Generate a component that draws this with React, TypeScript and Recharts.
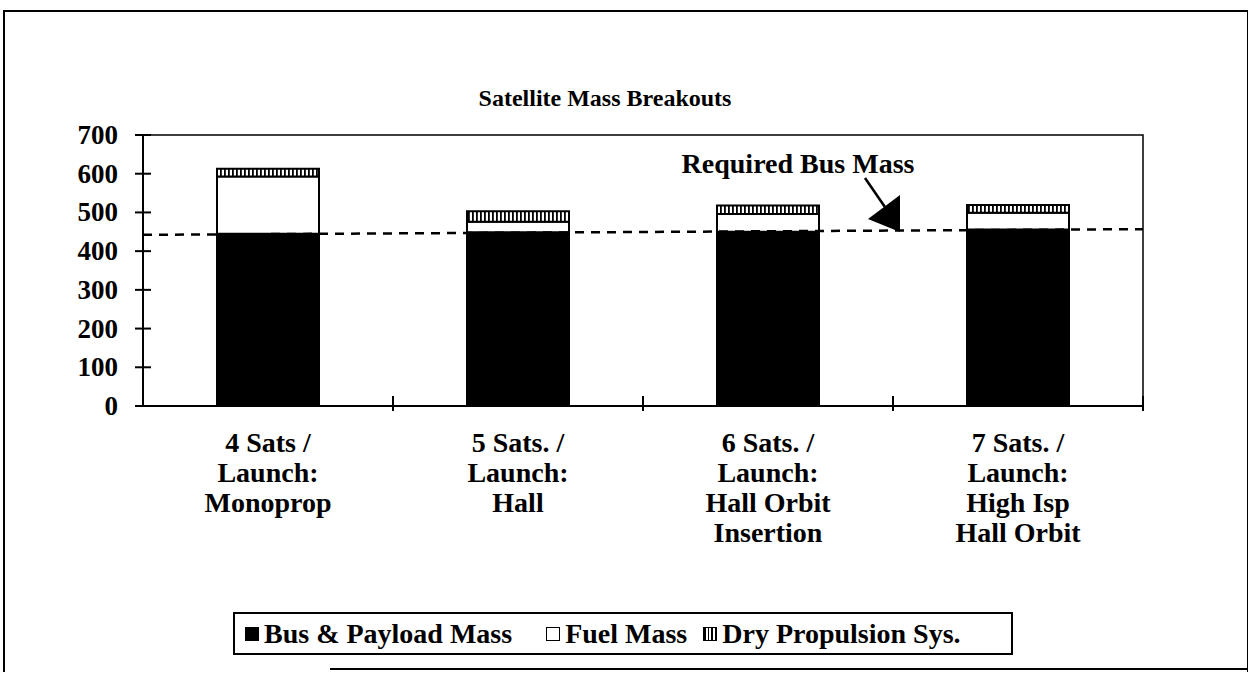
import { BarChart, Bar, XAxis, YAxis, ReferenceLine, ReferenceArea } from "recharts";

const categories = ["4 Sats / Launch: Monoprop", "5 Sats. / Launch: Hall", "6 Sats. / Launch: Hall Orbit Insertion", "7 Sats. / Launch: High Isp Hall Orbit"];
const categoryLines = [
  ["4 Sats /", "Launch:", "Monoprop"],
  ["5 Sats. /", "Launch:", "Hall"],
  ["6 Sats. /", "Launch:", "Hall Orbit", "Insertion"],
  ["7 Sats. /", "Launch:", "High Isp", "Hall Orbit"],
];
const busPayloadMass = [445, 449, 450, 456];
const fuelMass = [148, 27, 46, 43];
const dryPropulsion = [20, 27, 22, 20];
// required bus mass read at the first and last bar centres
const requiredBusMass = [444, 455];
const yTicks = [0, 100, 200, 300, 400, 500, 600, 700];

const data = categories.map((c, i) => ({
  name: c,
  bus: busPayloadMass[i],
  fuel: fuelMass[i],
  dry: dryPropulsion[i],
}));

const FONT = '"Liberation Serif", "Times New Roman", serif';
const TICK_SIZE = 8;
const TICK_MARGIN = 17;

const YTick = ({ x, y, payload }: any) => (
  <g>
    <line x1={x + TICK_MARGIN} x2={x + TICK_MARGIN + 2 * TICK_SIZE} y1={y} y2={y} stroke="#000" strokeWidth={2} />
    <text x={x} y={y} dy={9} textAnchor="end" fontFamily={FONT} fontWeight="bold" fontSize={27} fill="#000">
      {payload.value}
    </text>
  </g>
);

const XTick = ({ x, y, index }: any) => (
  <text x={x} y={y + 46} textAnchor="middle" fontFamily={FONT} fontWeight="bold" fontSize={28} fill="#000">
    {categoryLines[index].map((l, i) => (
      <tspan key={i} x={x} dy={i === 0 ? 0 : 30}>
        {l}
      </tspan>
    ))}
  </text>
);

const BoundaryTick = (props: any) => {
  const { x1, y1, y2 } = props;
  const bottom = Math.max(y1, y2);
  return <line x1={x1} x2={x1} y1={bottom - 10} y2={bottom + 5} stroke="#000" strokeWidth={2} />;
};

// extends the segment between the outer bar centres out to the plot edges
const RequiredLine = (props: any) => {
  const { x1, y1, x2, y2 } = props;
  const n = categories.length - 1;
  const dx = (x2 - x1) / (2 * n);
  const dy = (y2 - y1) / (2 * n);
  return (
    <line x1={x1 - dx} y1={y1 - dy} x2={x2 + dx} y2={y2 + dy} stroke="#000" strokeWidth={2.5} strokeDasharray="9 7" />
  );
};

const swatch = (bg: string) => ({
  display: "inline-block",
  width: 14,
  height: 14,
  border: "1.5px solid #000",
  background: bg,
  marginRight: 5,
  boxSizing: "border-box" as const,
});

export default function App() {
  return (
    <div style={{ position: "absolute", left: 0, top: 0, width: 1248, height: 673, background: "#fff", fontFamily: FONT }}>
      <div style={{ position: "absolute", left: 3, top: 10, width: 1242, height: 660, borderTop: "2px solid #000", borderLeft: "2px solid #000", borderRight: "2px solid #000" }} />
      <div style={{ position: "absolute", left: 330, top: 668, width: 918, height: 2, background: "#000" }} />
      <div style={{ position: "absolute", left: 0, top: 85, width: 1210, textAlign: "center", fontWeight: "bold", fontSize: 24 }}>
        Satellite Mass Breakouts
      </div>

      <BarChart width={1248} height={673} data={data} margin={{ top: 135, right: 105, bottom: 0, left: 0 }} barSize={102} style={{ position: "absolute", left: 0, top: 0 }}>
        <defs>
          <pattern id="dryHatch" width="4" height="4" patternUnits="userSpaceOnUse">
            <rect width="4" height="4" fill="#fff" />
            <rect width="1.8" height="4" fill="#000" />
          </pattern>
        </defs>
        <ReferenceArea y1={0} y2={700} fill="none" stroke="#000" strokeWidth={1.5} />
        <XAxis dataKey="name" height={267} tickSize={0} tickMargin={0} tickLine={false} interval={0} tick={<XTick />} axisLine={{ stroke: "#000", strokeWidth: 2 }} />
        <YAxis domain={[0, 700]} ticks={yTicks} width={143} tickSize={TICK_SIZE} tickMargin={TICK_MARGIN} tickLine={false} tick={<YTick />} axisLine={{ stroke: "#000", strokeWidth: 2 }} />
        <Bar dataKey="bus" stackId="m" fill="#000" stroke="#000" strokeWidth={2} isAnimationActive={false} />
        <Bar dataKey="fuel" stackId="m" fill="#fff" stroke="#000" strokeWidth={2} isAnimationActive={false} />
        <Bar dataKey="dry" stackId="m" fill="url(#dryHatch)" stroke="#000" strokeWidth={2} isAnimationActive={false} />
        {categories.slice(1).map((c) => (
          <ReferenceLine key={c} x={c} position="start" shape={<BoundaryTick />} />
        ))}
        <ReferenceLine x={categories[categories.length - 1]} position="end" shape={<BoundaryTick />} />
        <ReferenceLine
          segment={[
            { x: categories[0], y: requiredBusMass[0] },
            { x: categories[categories.length - 1], y: requiredBusMass[1] },
          ]}
          shape={<RequiredLine />}
        />
      </BarChart>

      <svg width={1248} height={673} style={{ position: "absolute", left: 0, top: 0, pointerEvents: "none" }}>
        <text x={798} y={173} textAnchor="middle" fontFamily={FONT} fontWeight="bold" fontSize={28}>
          Required Bus Mass
        </text>
        <line x1={865} y1={178} x2={887} y2={210} stroke="#000" strokeWidth={2.5} />
        <polygon points="868,219 900,195 900,232" fill="#000" />
      </svg>

      <div style={{ position: "absolute", left: 233, top: 612, width: 780, height: 43, border: "2px solid #000", boxSizing: "border-box", display: "flex", alignItems: "center", paddingLeft: 10, fontWeight: "bold", fontSize: 28, whiteSpace: "nowrap" }}>
        <span style={swatch("#000")} />
        <span>Bus &amp; Payload Mass</span>
        <span style={{ ...swatch("#fff"), marginLeft: 34 }} />
        <span>Fuel Mass</span>
        <span style={{ ...swatch("repeating-linear-gradient(90deg, #000 0 1.5px, #fff 1.5px 3.5px)"), marginLeft: 16 }} />
        <span>Dry Propulsion Sys.</span>
      </div>
    </div>
  );
}
